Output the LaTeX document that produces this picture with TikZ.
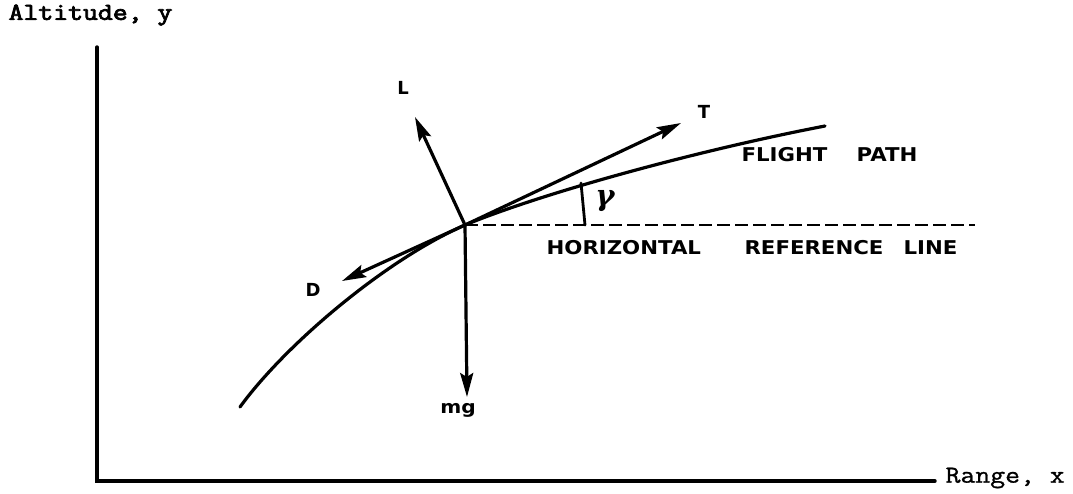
\documentclass[tikz,border=0pt]{standalone}
\usepackage{fontspec}
\newfontfamily\lab{DejaVu Sans}
\newfontfamily\gkfont{DejaVu Serif}
\newfontfamily\altfont{Latin Modern Mono}[FakeBold=3]
\newfontfamily\rngfont{Latin Modern Mono}[FakeBold=1]
\usetikzlibrary{arrows.meta}
\newcommand\widetext[1]{\scalebox{1.12}[1]{#1}}
\newcommand\widemono[1]{\scalebox{1.18}[1]{#1}}
\begin{document}
\begin{tikzpicture}[x=1pt,y=-1pt,line width=3.2pt,line cap=round,
  vec/.style={-{Stealth[length=24pt,width=13pt,inset=4pt]}},
  biglbl/.style={font=\lab\bfseries\fontsize{19}{19}\selectfont,inner sep=0pt,anchor=west},
  forcelbl/.style={font=\lab\bfseries\fontsize{18}{18}\selectfont,inner sep=0pt},
  axislbl/.style={font=\rngfont\fontsize{24.5}{24.5}\selectfont,inner sep=0pt,anchor=west},
  gamlbl/.style={font=\gkfont\bfseries\itshape\fontsize{29}{29}\selectfont,inner sep=0pt},
  refline/.style={line width=2.2pt,dash pattern=on 13pt off 5pt,line cap=butt}]
\useasboundingbox (0,0) rectangle (1073,493);
% axes
\coordinate (ytop) at (97,47);
\coordinate (orig) at (97,481);
\coordinate (xend) at (935,481);
\draw[line width=3.4pt] (ytop) -- (orig) -- (xend);
\node[axislbl,font=\altfont\fontsize{24.5}{24.5}\selectfont] (alt) at (7,15) {\widemono{Altitude, y}};
\node[axislbl] (rng) at (944,478) {\widemono{Range, x}};
% flight path
\coordinate (start) at (240,407);
\coordinate (O) at (465,225);
\coordinate (fend) at (825,126);
\draw (start) .. controls (285,345) and (385,260) .. (O)
              .. controls (545,192) and (700,150) .. (fend);
% horizontal reference line
\coordinate (href) at (975,225);
\draw[refline] (O) -- (href);
% angle marker
\coordinate (ga) at (581,183);
\coordinate (gb) at (585,225);
\draw[line width=2.8pt] (ga) -- (gb);
\node[gamlbl] (gam) at (605,201) {γ};
% forces
\coordinate (Ttip) at (681,123);
\coordinate (Ltip) at (415,117);
\coordinate (Dtip) at (342,281);
\coordinate (Wtip) at (467,397);
\draw[vec] (O) -- (Ttip);
\draw[vec] (O) -- (Ltip);
\draw[vec] (O) -- (Dtip);
\draw[vec] (O) -- (Wtip);
\node[forcelbl] (T) at (704,112) {T};
\node[forcelbl] (L) at (403,88) {L};
\node[forcelbl] (D) at (313,290) {D};
\node[forcelbl] (mg) at (458,410) {\widetext{mg}};
% texts
\node[biglbl] (fl) at (740,155) {\widetext{FLIGHT}};
\node[biglbl] (pa) at (855,155) {\widetext{PATH}};
\node[biglbl] (ho) at (545,248) {\widetext{HORIZONTAL}};
\node[biglbl] (re) at (743,248) {\widetext{REFERENCE}};
\node[biglbl] (li) at (902,248) {\widetext{LINE}};
\end{tikzpicture}
\end{document}
